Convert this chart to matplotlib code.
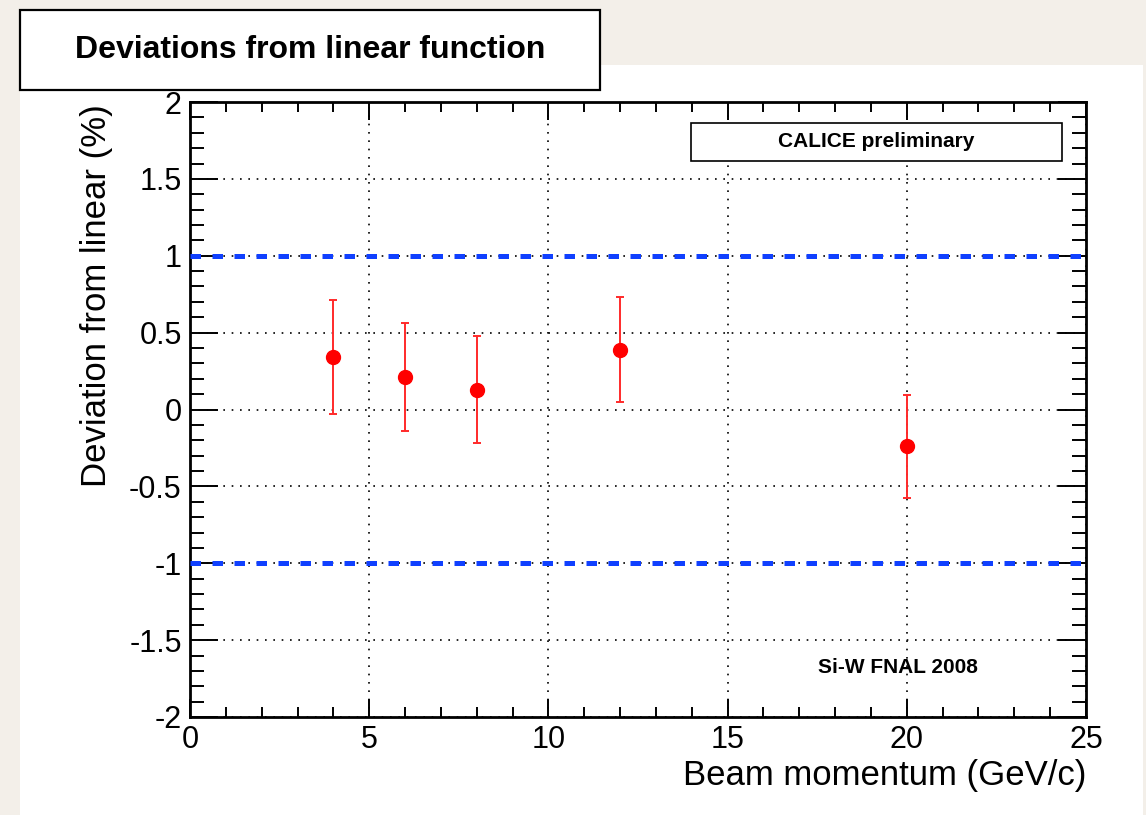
import numpy as np
import matplotlib
matplotlib.use("Agg")
import matplotlib.pyplot as plt
from matplotlib.patches import Rectangle
from matplotlib.ticker import MultipleLocator

plt.rcParams['font.family'] = ['Liberation Sans', 'DejaVu Sans']

# data
momentum = [4, 6, 8, 12, 20]
deviation = [0.34, 0.21, 0.13, 0.39, -0.24]
dev_err = [0.37, 0.35, 0.35, 0.34, 0.335]
limits = [1.0, -1.0]

W, H = 1146, 815
fig = plt.figure(figsize=(W / 100, H / 100), dpi=100)
fig.patch.set_facecolor('#f3efe9')

# white canvas and title box
fig.patches.append(Rectangle((20 / W, 0), (1143 - 20) / W, (H - 65) / H,
                             transform=fig.transFigure, facecolor='white',
                             edgecolor='none', zorder=-5))
fig.patches.append(Rectangle((20 / W, 1 - 90 / H), 580 / W, 80 / H,
                             transform=fig.transFigure, facecolor='white',
                             edgecolor='black', lw=1.6, zorder=5))
fig.text(310 / W, 1 - 50 / H, 'Deviations from linear function',
         ha='center', va='center', fontsize=23, fontweight='bold', zorder=6)

ax = fig.add_axes([190 / W, 1 - 717 / H, (1086 - 190) / W, (717 - 102) / H])
ax.set_zorder(1)
ax.set_facecolor('white')

ax.set_xlim(0, 25)
ax.set_ylim(-2, 2)
ax.xaxis.set_minor_locator(MultipleLocator(1))
ax.yaxis.set_minor_locator(MultipleLocator(0.1))
ax.set_yticks([-2, -1.5, -1, -0.5, 0, 0.5, 1, 1.5, 2])
ax.set_yticklabels(['-2', '-1.5', '-1', '-0.5', '0', '0.5', '1', '1.5', '2'])
ax.set_xticks([0, 5, 10, 15, 20, 25])
ax.set_xticklabels(['0', '5', '10', '15', '20', '25'])

ax.grid(True, which='major', color='black', linestyle=(0, (1, 4)), lw=1.2)

for y in limits:
    ax.axhline(y, color='#1040ff', lw=3.6, dashes=(2.1, 2.3), zorder=3)

ax.errorbar(momentum, deviation, yerr=dev_err, fmt='o', color='#ff0000',
            ecolor='#ff2a2a', ms=10, elinewidth=1.4, capsize=3, capthick=1.4,
            zorder=4)

ax.tick_params(axis='both', which='both', direction='in', top=True,
               right=True, width=1.4, labelsize=22)
ax.tick_params(axis='x', which='major', length=13, pad=6)
ax.tick_params(axis='x', which='minor', length=7)
ax.tick_params(axis='y', which='major', length=20, pad=6)
ax.tick_params(axis='y', which='minor', length=10)
for s in ax.spines.values():
    s.set_linewidth(2)

# legend-like boxes
ax.add_patch(Rectangle((0.559, 0.904), 0.414, 0.062, transform=ax.transAxes,
                       facecolor='white', edgecolor='black', lw=1.2, zorder=6))
ax.text(0.766, 0.935, 'CALICE preliminary', transform=ax.transAxes,
        ha='center', va='center', fontsize=15, fontweight='bold', zorder=7)
ax.text(0.79, 0.08, 'Si-W FNAL 2008', transform=ax.transAxes,
        ha='center', va='center', fontsize=15, fontweight='bold', zorder=7)

fig.text(97 / W, 1 - 104 / H, 'Deviation from linear (%)', rotation=90,
         ha='center', va='top', fontsize=25)
fig.text(1086 / W, 1 - 775 / H, 'Beam momentum (GeV/c)',
         ha='right', va='center', fontsize=25)

fig.savefig('out.png', dpi=100, facecolor=fig.get_facecolor())
